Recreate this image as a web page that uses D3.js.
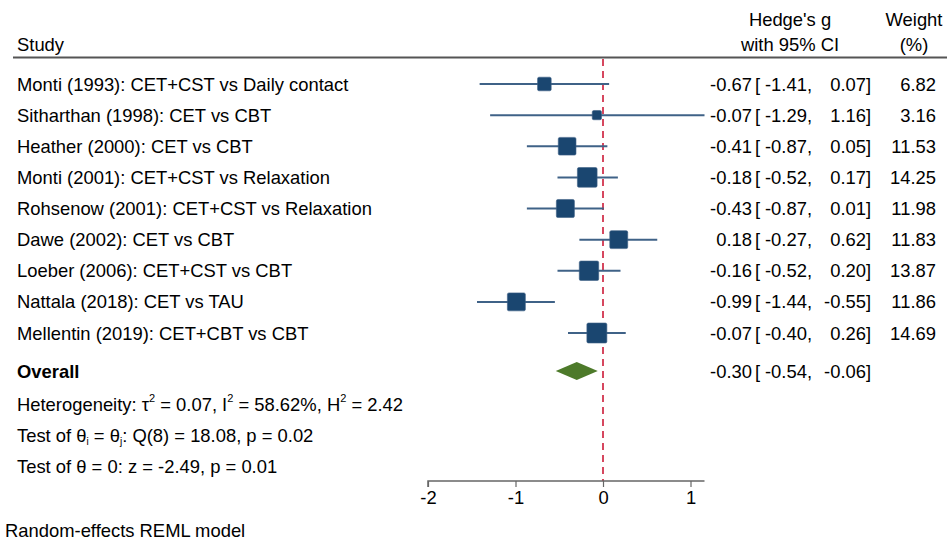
<!DOCTYPE html>
<html><head><meta charset="utf-8">
<script src="https://cdn.jsdelivr.net/npm/d3@7"></script>
<style>body{margin:0;background:#fff}svg{font-family:"Liberation Sans",Arial,sans-serif}</style>
</head><body><svg id="c" width="947" height="540"></svg>
<script>
const studies = ["Monti (1993): CET+CST vs Daily contact","Sitharthan (1998): CET vs CBT","Heather (2000): CET vs CBT","Monti (2001): CET+CST vs Relaxation","Rohsenow (2001): CET+CST vs Relaxation","Dawe (2002): CET vs CBT","Loeber (2006): CET+CST vs CBT","Nattala (2018): CET vs TAU","Mellentin (2019): CET+CBT vs CBT"];
const estimates = [-0.67,-0.07,-0.41,-0.18,-0.43,0.18,-0.16,-0.99,-0.07];
const lowerCI = [-1.41,-1.29,-0.87,-0.52,-0.87,-0.27,-0.52,-1.44,-0.40];
const upperCI = [0.07,1.16,0.05,0.17,0.01,0.62,0.20,-0.55,0.26];
const weights = [6.82,3.16,11.53,14.25,11.98,11.83,13.87,11.86,14.69];
const overall = {est:-0.30, lo:-0.54, hi:-0.06};
const xTicks = [-2,-1,0,1];

const svg = d3.select("#c");
const fs = 18.4;
const x = d3.scaleLinear().domain([-2,1]).range([428,690.5]);
const rowY = d3.scaleLinear().domain([0,8]).range([84,333]);
const size = d3.scaleSqrt().domain([0,14.69]).range([0,20]);
const f = v => d3.format(".2f")(v).replace("−","-");

// headers
svg.append("text").attr("x",790).attr("y",26).attr("text-anchor","middle").attr("font-size",fs).text("Hedge's g");
svg.append("text").attr("x",790).attr("y",51).attr("text-anchor","middle").attr("font-size",fs).text("with 95% CI");
svg.append("text").attr("x",914).attr("y",26).attr("text-anchor","middle").attr("font-size",fs).text("Weight");
svg.append("text").attr("x",914).attr("y",51).attr("text-anchor","middle").attr("font-size",fs).text("(%)");
svg.append("text").attr("x",17).attr("y",51).attr("font-size",fs).text("Study");
svg.append("line").attr("x1",13).attr("x2",947).attr("y1",57.5).attr("y2",57.5).attr("stroke","#555").attr("stroke-width",2);

// null line
svg.append("line").attr("x1",x(0)).attr("x2",x(0)).attr("y1",59).attr("y2",481)
  .attr("stroke","#d6475f").attr("stroke-width",2).attr("stroke-dasharray","7,5");

// rows
const g = svg.append("g");
const ty = 6.5;
studies.forEach((s,i)=>{
  const y = rowY(i);
  g.append("text").attr("x",17).attr("y",y+ty).attr("font-size",fs).text(s);
  g.append("line").attr("x1",x(lowerCI[i])).attr("x2",x(upperCI[i])).attr("y1",y).attr("y2",y)
    .attr("stroke","#3f6287").attr("stroke-width",2);
  const w = size(weights[i]);
  g.append("rect").attr("x",x(estimates[i])-w/2).attr("y",y-w/2).attr("width",w).attr("height",w)
    .attr("rx",1.5).attr("fill","#1a4670").attr("stroke","#3f6287").attr("stroke-width",0.6);
  g.append("text").attr("x",752).attr("y",y+ty).attr("text-anchor","end").attr("font-size",fs).text(f(estimates[i]));
  g.append("text").attr("x",755).attr("y",y+ty).attr("font-size",fs).text("[");
  g.append("text").attr("x",812).attr("y",y+ty).attr("text-anchor","end").attr("font-size",fs).text(f(lowerCI[i])+",");
  g.append("text").attr("x",866).attr("y",y+ty).attr("text-anchor","end").attr("font-size",fs).text(f(upperCI[i]));
  g.append("text").attr("x",866).attr("y",y+ty).attr("font-size",fs).text("]");
  g.append("text").attr("x",936).attr("y",y+ty).attr("text-anchor","end").attr("font-size",fs).text(f(weights[i]));
});

// overall
const oy = 371;
svg.append("text").attr("x",17).attr("y",oy+ty).attr("font-size",fs).attr("font-weight","bold").text("Overall");
svg.append("path").attr("d",`M${x(overall.lo)},${oy}L${x(overall.est)},${oy-9}L${x(overall.hi)},${oy}L${x(overall.est)},${oy+9}Z`)
  .attr("fill","#4d7a2a");
svg.append("text").attr("x",752).attr("y",oy+ty).attr("text-anchor","end").attr("font-size",fs).text(f(overall.est));
svg.append("text").attr("x",755).attr("y",oy+ty).attr("font-size",fs).text("[");
svg.append("text").attr("x",812).attr("y",oy+ty).attr("text-anchor","end").attr("font-size",fs).text(f(overall.lo)+",");
svg.append("text").attr("x",866).attr("y",oy+ty).attr("text-anchor","end").attr("font-size",fs).text(f(overall.hi));
svg.append("text").attr("x",866).attr("y",oy+ty).attr("font-size",fs).text("]");

// stats text
const t1 = svg.append("text").attr("x",17).attr("y",411).attr("font-size",fs);
t1.append("tspan").text("Heterogeneity: τ");
t1.append("tspan").attr("font-size",11).attr("dy",-9).text("2");
t1.append("tspan").attr("dy",9).text(" = 0.07, I");
t1.append("tspan").attr("font-size",11).attr("dy",-9).text("2");
t1.append("tspan").attr("dy",9).text(" = 58.62%, H");
t1.append("tspan").attr("font-size",11).attr("dy",-9).text("2");
t1.append("tspan").attr("dy",9).text(" = 2.42");

const t2 = svg.append("text").attr("x",17).attr("y",442).attr("font-size",fs);
t2.append("tspan").text("Test of θ");
t2.append("tspan").attr("font-size",10).attr("dy",3).text("i");
t2.append("tspan").attr("dy",-3).text(" = θ");
t2.append("tspan").attr("font-size",10).attr("dy",3).text("j");
t2.append("tspan").attr("dy",-3).text(": Q(8) = 18.08, p = 0.02");

svg.append("text").attr("x",17).attr("y",473).attr("font-size",fs).text("Test of θ = 0: z = -2.49, p = 0.01");

// axis
const axis = d3.axisBottom(x).tickValues(xTicks).tickSize(6).tickPadding(4).tickFormat(d => String(d));
const ax = svg.append("g").attr("transform","translate(0,481)").call(axis);
ax.select(".domain").attr("d",`M${x(-2)},6V0H${x(1.16)}V0`).attr("stroke","#666").attr("stroke-width",1.5);
ax.selectAll(".tick line").attr("stroke","#666").attr("stroke-width",1.2);
ax.selectAll(".tick text").attr("font-size",fs).attr("fill","#000").attr("font-family","Liberation Sans, Arial, sans-serif");

svg.append("text").attr("x",5).attr("y",537).attr("font-size",fs).text("Random-effects REML model");
</script></body></html>
